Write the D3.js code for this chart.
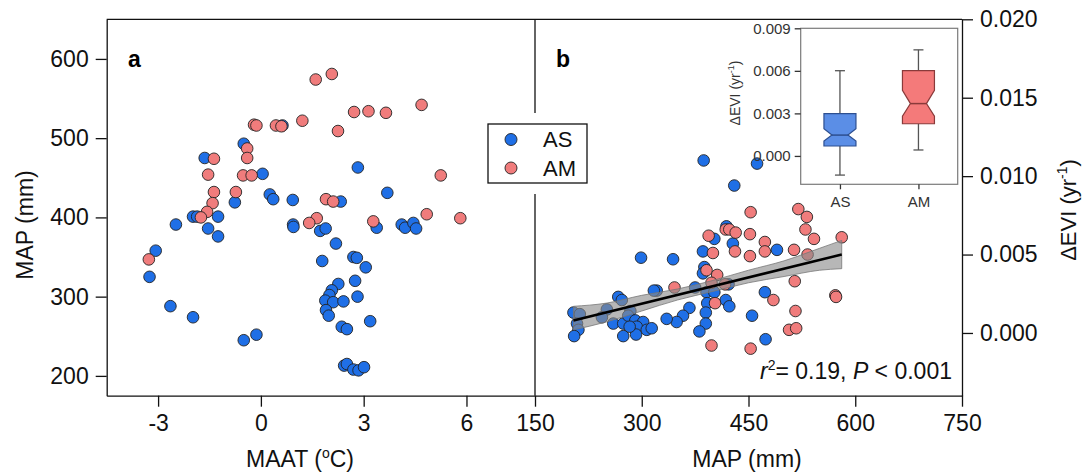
<!DOCTYPE html>
<html>
<head>
<meta charset="utf-8">
<script src="https://cdn.jsdelivr.net/npm/d3@7"></script>
<style>
  body { margin: 0; background: #fff; }
  svg { display: block; font-family: "Liberation Sans", Arial, sans-serif; }
</style>
</head>
<body>
<div id="chart"></div>
<script>
(function() {

    var width = 1083;
    var height = 474;

    // ---- data ----
    var groups = ["AS", "AM"];

    // panel a: MAAT (degC) vs MAP (mm)
    var asMaat = [-0.50, -1.64, 0.05, 2.83, 3.69, 0.26, 0.36, 0.93, -0.76, 2.33, -1.98, -1.86, -1.25, -1.54, -1.25,
        -2.48, 0.94, 0.95, 1.73, 1.89, 2.19, 3.38, 4.11, 4.21, 4.45, 4.53, -3.07, -3.25, -2.64, -1.98, -0.50, -0.13,
        1.79, 2.70, 2.80, 3.06, 2.26, 2.75, 2.07, 2.00, 2.82, 1.88, 2.11, 2.41, 1.90, 1.98, 3.19, 2.36, 2.51,
        2.43, 2.51, 2.70, 2.85, 3.01, 0.63];
    var asMapA = [493, 475, 455, 463, 431, 429, 423, 422, 419, 420, 401, 401, 401, 386, 376,
        391, 391, 388, 383, 386, 367, 387, 391, 387, 393, 386, 358, 325, 288, 274, 245, 252,
        345, 350, 349, 337, 316, 320, 308, 302, 300, 295, 293, 294, 283, 276, 269, 262, 259,
        213, 215, 208, 207, 211, 516];
    var amMaat = [1.60, 2.07, 4.69, 2.72, 3.14, 3.65, 1.21, 2.25, -0.20, -0.13, 0.44, 0.60, -0.40, -0.40, -1.37, -1.54,
        -0.52, -0.27, 5.25, -1.37, -0.73, -1.41, -1.57, -1.75, 1.90, 2.11, 1.63, 1.41, 3.28, 4.84, 5.82, -3.27];
    var amMapA = [574, 581, 542, 533, 534, 532, 522, 509, 517, 516, 516, 515, 487, 475, 474, 454,
        453, 453, 453, 432, 432, 418, 407, 400, 423, 420, 399, 393, 395, 404, 399, 347];

    // panel b: MAP (mm) vs delta EVI (yr-1)
    var asMapB = [387, 462, 430, 419, 402, 428, 386, 490, 299, 344, 388, 386, 321, 317, 375, 391, 402, 422, 473,
        418, 423, 392, 390, 390, 381, 455, 474, 367, 358, 349, 335, 267, 272, 251, 244, 260, 274, 284, 281,
        291, 302, 293, 307, 314, 292, 274, 204, 213, 209, 211, 205, 283];
    var asEvi = [0.0110, 0.0108, 0.0094, 0.0068, 0.0060, 0.0057, 0.0052, 0.0053, 0.0048, 0.0047, 0.0042, 0.0038,
        0.0027, 0.0027, 0.0029, 0.0026, 0.0026, 0.0031, 0.0026, 0.0021, 0.0017, 0.0019, 0.0013, 0.0006, 0.0001,
        0.0011, -0.0004, 0.0016, 0.0011, 0.0007, 0.0009, 0.0023, 0.0021, 0.0015, 0.0010, 0.0006, 0.0006, 0.0014,
        0.0011, 0.0008, 0.0007, 0.0004, 0.0002, 0.0003, -0.0001, -0.0002, 0.0013, 0.0012, 0.0006, 0.0002, -0.0002, 0.0004];
    var amMapB = [453, 520, 532, 530, 542, 581, 418, 423, 432, 452, 394, 473, 473, 431, 400, 452, 514, 533,
        391, 406, 398, 417, 515, 346, 572, 573, 485, 403, 516, 507, 517, 398, 453];
    var amEvi = [0.0077, 0.0079, 0.0074, 0.0066, 0.0060, 0.0061, 0.0066, 0.0066, 0.0064, 0.0063, 0.0062, 0.0058,
        0.0052, 0.0052, 0.0051, 0.0049, 0.0053, 0.0050, 0.0040, 0.0037, 0.0032, 0.0031, 0.0033, 0.0029, 0.0024,
        0.0023, 0.0021, 0.0019, 0.0014, 0.0002, 0.0003, -0.0008, -0.0010];

    // regression line and confidence band
    var fitMap = [204, 581];
    var fitEvi = [0.0008, 0.0050];
    var bandMap = [204, 250, 300, 350, 400, 450, 500, 550, 581];
    var bandLo = [0.0002, 0.0007, 0.0014, 0.0021, 0.00265, 0.0032, 0.0036, 0.0040, 0.0041];
    var bandHi = [0.0017, 0.0019, 0.0024, 0.0028, 0.00335, 0.0040, 0.0046, 0.0054, 0.0059];

    // inset notched boxplot stats (AS, AM)
    var boxLow = [-0.00135, 0.00042];
    var boxQ1 = [0.00070, 0.00227];
    var boxNotchLo = [0.00105, 0.00280];
    var boxMedian = [0.00147, 0.00369];
    var boxNotchHi = [0.00192, 0.00463];
    var boxQ3 = [0.00299, 0.00601];
    var boxHigh = [0.00601, 0.00748];

    var aTicksX = [-3, 0, 3, 6];
    var aTicksY = [200, 300, 400, 500, 600];
    var bTicksX = [150, 300, 450, 600, 750];
    var bTicksY = [0, 0.005, 0.010, 0.015, 0.020];
    var insetTicksY = [0, 0.003, 0.006, 0.009];

    var blue = "#1f6fe6", red = "#f07c7c";
    var boxFill = ["#5b8ee6", "#f47a7a"], boxStroke = ["#2d4f90", "#8a3a3a"];

    // ---- layout ----
    var top = 19.3, bottom = 395.7;
    var aLeft = 106.7, mid = 535, bRight = 962;

    var xa = d3.scaleLinear().domain([-4.5, 8]).range([aLeft, mid]);
    var ya = d3.scaleLinear().domain([175, 650]).range([bottom, top]);
    var xb = d3.scaleLinear().domain([150, 750]).range([mid, bRight]);
    var yb = d3.scaleLinear().domain([-0.004, 0.020]).range([bottom, top]);

    var svg = d3.select("#chart").append("svg")
        .attr("width", width)
        .attr("height", height);

    function styleAxis(g, size, color) {
        g.selectAll("text").attr("font-size", size).attr("fill", color || "#111")
            .attr("font-family", "Liberation Sans, Arial, sans-serif");
        g.selectAll("line").attr("stroke", color || "#111").attr("stroke-width", 1.3);
        g.select(".domain").attr("stroke", color || "#111").attr("stroke-width", 1.3);
    }

    // panel a axes
    svg.append("g").attr("transform", "translate(" + aLeft + ",0)")
        .call(d3.axisLeft(ya).tickValues(aTicksY).tickSize(11).tickSizeOuter(0).tickPadding(7))
        .call(styleAxis, 23);
    svg.append("g").attr("transform", "translate(0," + bottom + ")")
        .call(d3.axisBottom(xa).tickValues(aTicksX).tickSize(11).tickSizeOuter(0).tickPadding(8)
            .tickFormat(function (d) { return String(d); }))
        .call(styleAxis, 23);

    // panel b axes
    svg.append("g").attr("transform", "translate(0," + bottom + ")")
        .call(d3.axisBottom(xb).tickValues(bTicksX).tickSize(11).tickSizeOuter(0).tickPadding(8))
        .call(styleAxis, 23);
    svg.append("g").attr("transform", "translate(" + bRight + ",0)")
        .call(d3.axisRight(yb).tickValues(bTicksY).tickSize(11).tickSizeOuter(0).tickPadding(7).tickFormat(d3.format(".3f")))
        .call(styleAxis, 23);

    // frame: top border and divider
    svg.append("line").attr("x1", aLeft).attr("x2", bRight).attr("y1", top).attr("y2", top)
        .attr("stroke", "#111").attr("stroke-width", 1.3);
    svg.append("line").attr("x1", mid).attr("x2", mid).attr("y1", top).attr("y2", bottom)
        .attr("stroke", "#111").attr("stroke-width", 1.3);

    // axis titles
    svg.append("text").attr("transform", "translate(33,225) rotate(-90)")
        .attr("text-anchor", "middle").attr("font-size", 23).attr("fill", "#111").text("MAP (mm)");

    var t1 = svg.append("text").attr("x", 300).attr("y", 467).attr("text-anchor", "middle")
        .attr("font-size", 23).attr("fill", "#111");
    t1.append("tspan").text("MAAT (");
    t1.append("tspan").attr("dy", -9).attr("font-size", 14).text("o");
    t1.append("tspan").attr("dy", 9).text("C)");

    svg.append("text").attr("x", 747).attr("y", 467).attr("text-anchor", "middle")
        .attr("font-size", 23).attr("fill", "#111").text("MAP (mm)");

    var t2 = svg.append("text").attr("transform", "translate(1076,210) rotate(-90)")
        .attr("text-anchor", "middle").attr("font-size", 22).attr("fill", "#111");
    t2.append("tspan").text("\u0394EVI (yr");
    t2.append("tspan").attr("dy", -9).attr("font-size", 14).text("-1");
    t2.append("tspan").attr("dy", 9).text(")");

    // panel letters
    svg.append("text").attr("x", 128).attr("y", 67).attr("font-size", 23).attr("font-weight", "bold").text("a");
    svg.append("text").attr("x", 556).attr("y", 67).attr("font-size", 23).attr("font-weight", "bold").text("b");

    function dots(xs, ys, sx, sy, fill) {
        var data = xs.map(function (d, i) { return [d, ys[i]]; });
        svg.append("g").selectAll("circle").data(data).enter().append("circle")
            .attr("cx", function (d) { return sx(d[0]); })
            .attr("cy", function (d) { return sy(d[1]); })
            .attr("r", 5.8)
            .attr("fill", fill)
            .attr("stroke", "#222")
            .attr("stroke-width", 0.9);
    }

    // panel a points
    dots(asMaat, asMapA, xa, ya, blue);
    dots(amMaat, amMapA, xa, ya, red);

    // panel b points
    dots(asMapB, asEvi, xb, yb, blue);
    dots(amMapB, amEvi, xb, yb, red);

    // confidence band + fit
    var band = d3.area()
        .x(function (d, i) { return xb(bandMap[i]); })
        .y0(function (d, i) { return yb(bandLo[i]); })
        .y1(function (d, i) { return yb(bandHi[i]); })
        .curve(d3.curveMonotoneX);
    svg.append("path").datum(bandMap).attr("d", band)
        .attr("fill", "#8a8a8a").attr("fill-opacity", 0.62)
        .attr("stroke", "#777").attr("stroke-width", 0.8);
    svg.append("line")
        .attr("x1", xb(fitMap[0])).attr("y1", yb(fitEvi[0]))
        .attr("x2", xb(fitMap[1])).attr("y2", yb(fitEvi[1]))
        .attr("stroke", "#000").attr("stroke-width", 2.6);

    // statistics text
    var st = svg.append("text").attr("x", 952).attr("y", 379).attr("text-anchor", "end")
        .attr("font-size", 23).attr("fill", "#111");
    st.append("tspan").attr("font-style", "italic").text("r");
    st.append("tspan").attr("dy", -9).attr("font-size", 14).text("2");
    st.append("tspan").attr("dy", 9).text("= 0.19, ");
    st.append("tspan").attr("font-style", "italic").text("P");
    st.append("tspan").text(" < 0.001");

    // legend (white backing breaks the divider)
    svg.append("rect").attr("x", 482).attr("y", 113).attr("width", 112).attr("height", 81).attr("fill", "#fff");
    svg.append("rect").attr("x", 488).attr("y", 124).attr("width", 99).attr("height", 59)
        .attr("fill", "#fff").attr("stroke", "#111").attr("stroke-width", 1.3);
    [blue, red].forEach(function (c, i) {
        svg.append("circle").attr("cx", 511).attr("cy", 139.5 + i * 28.5).attr("r", 6)
            .attr("fill", c).attr("stroke", "#222").attr("stroke-width", 0.9);
        svg.append("text").attr("x", 543).attr("y", 147 + i * 28.5).attr("font-size", 22)
            .attr("fill", "#111").text(groups[i]);
    });

    // ---- inset boxplot ----
    var iL = 800.7, iR = 957.7, iT = 28.3, iB = 184.3;
    var xi = d3.scalePoint().domain(groups).range([iL, iR]).padding(0.5);
    var yi = d3.scaleLinear().domain([-0.002, 0.009]).range([iB, iT]);

    svg.append("rect").attr("x", iL).attr("y", iT).attr("width", iR - iL).attr("height", iB - iT)
        .attr("fill", "#fff").attr("stroke", "#7a7a7a").attr("stroke-width", 1.2);

    var ia = svg.append("g").attr("transform", "translate(" + iL + ",0)")
        .call(d3.axisLeft(yi).tickValues(insetTicksY).tickSize(6).tickSizeOuter(0).tickPadding(4).tickFormat(d3.format(".3f")))
        .call(styleAxis, 15, "#333");
    ia.select(".domain").remove();
    var ib = svg.append("g").attr("transform", "translate(0," + iB + ")")
        .call(d3.axisBottom(xi).tickSize(5).tickSizeOuter(0).tickPadding(7))
        .call(styleAxis, 15, "#333");
    ib.select(".domain").remove();

    var it = svg.append("text").attr("transform", "translate(740,93) rotate(-90)")
        .attr("text-anchor", "middle").attr("font-size", 14).attr("fill", "#333");
    it.append("tspan").text("\u0394EVI (yr");
    it.append("tspan").attr("dy", -6).attr("font-size", 9).text("-1");
    it.append("tspan").attr("dy", 6).text(")");

    var bw = 32, waist = bw * 0.25, cap = 5;
    groups.forEach(function (g, i) {
        var cx = xi(g);
        var l = cx - bw / 2, r = cx + bw / 2;
        // whiskers
        svg.append("line").attr("x1", cx).attr("x2", cx).attr("y1", yi(boxHigh[i])).attr("y2", yi(boxQ3[i]))
            .attr("stroke", "#555").attr("stroke-width", 1.3);
        svg.append("line").attr("x1", cx).attr("x2", cx).attr("y1", yi(boxQ1[i])).attr("y2", yi(boxLow[i]))
            .attr("stroke", "#555").attr("stroke-width", 1.3);
        [boxHigh[i], boxLow[i]].forEach(function (v) {
            svg.append("line").attr("x1", cx - cap).attr("x2", cx + cap).attr("y1", yi(v)).attr("y2", yi(v))
                .attr("stroke", "#555").attr("stroke-width", 1.3);
        });
        // notched box
        var pts = [
            [l, yi(boxQ3[i])], [r, yi(boxQ3[i])], [r, yi(boxNotchHi[i])], [r - waist, yi(boxMedian[i])],
            [r, yi(boxNotchLo[i])], [r, yi(boxQ1[i])], [l, yi(boxQ1[i])], [l, yi(boxNotchLo[i])],
            [l + waist, yi(boxMedian[i])], [l, yi(boxNotchHi[i])]
        ];
        svg.append("path").attr("d", "M" + pts.join("L") + "Z")
            .attr("fill", boxFill[i]).attr("stroke", boxStroke[i]).attr("stroke-width", 1.2);
        svg.append("line").attr("x1", l + waist).attr("x2", r - waist)
            .attr("y1", yi(boxMedian[i])).attr("y2", yi(boxMedian[i]))
            .attr("stroke", boxStroke[i]).attr("stroke-width", 1.5);
    });

})();
</script>
</body>
</html>
